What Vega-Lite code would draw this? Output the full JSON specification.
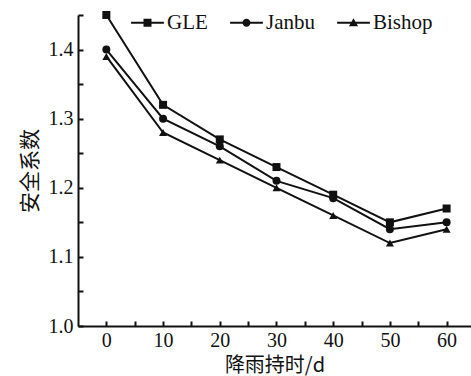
{
  "$schema": "https://vega.github.io/schema/vega-lite/v6.json",
  "width": 393,
  "height": 311,
  "autosize": "none",
  "padding": {"left": 78, "top": 15, "right": 0, "bottom": 50},
  "background": "white",
  "config": {
    "view": {"stroke": null},
    "font": "Liberation Serif, DejaVu Serif, serif",
    "axis": {"grid": false, "domainColor": "#111", "domainWidth": 2, "tickColor": "#111", "tickWidth": 2, "labelColor": "#111", "titleColor": "#111", "labelFont": "Liberation Serif, DejaVu Serif, serif", "labelFontSize": 20}
  },
  "data": {
    "values": [
      {"method": "GLE", "t": 0, "fs": 1.45},
      {"method": "GLE", "t": 10, "fs": 1.32},
      {"method": "GLE", "t": 20, "fs": 1.27},
      {"method": "GLE", "t": 30, "fs": 1.23},
      {"method": "GLE", "t": 40, "fs": 1.19},
      {"method": "GLE", "t": 50, "fs": 1.15},
      {"method": "GLE", "t": 60, "fs": 1.17},
      {"method": "Janbu", "t": 0, "fs": 1.40},
      {"method": "Janbu", "t": 10, "fs": 1.30},
      {"method": "Janbu", "t": 20, "fs": 1.26},
      {"method": "Janbu", "t": 30, "fs": 1.21},
      {"method": "Janbu", "t": 40, "fs": 1.185},
      {"method": "Janbu", "t": 50, "fs": 1.14},
      {"method": "Janbu", "t": 60, "fs": 1.15},
      {"method": "Bishop", "t": 0, "fs": 1.39},
      {"method": "Bishop", "t": 10, "fs": 1.28},
      {"method": "Bishop", "t": 20, "fs": 1.24},
      {"method": "Bishop", "t": 30, "fs": 1.20},
      {"method": "Bishop", "t": 40, "fs": 1.16},
      {"method": "Bishop", "t": 50, "fs": 1.12},
      {"method": "Bishop", "t": 60, "fs": 1.14}
    ]
  },
  "encoding": {
    "x": {
      "field": "t", "type": "quantitative",
      "scale": {"domain": [-5, 64.3], "nice": false, "zero": false},
      "axis": {
        "title": "降雨持时/d", "titleFont": "Noto Sans CJK SC", "titleFontSize": 20, "titleFontWeight": "normal", "titlePadding": 5,
        "values": [0, 5, 10, 15, 20, 25, 30, 35, 40, 45, 50, 55, 60],
        "labelExpr": "datum.value % 10 == 0 ? datum.label : ''",
        "tickSize": -5, "labelPadding": 9, "labelFlush": false
      }
    },
    "y": {
      "field": "fs", "type": "quantitative",
      "scale": {"domain": [1.0, 1.45], "nice": false, "zero": false},
      "axis": {
        "title": "安全系数", "titleFont": "Noto Sans CJK SC", "titleFontSize": 21, "titleFontWeight": "normal", "titlePadding": 8,
        "values": [1.0, 1.05, 1.1, 1.15, 1.2, 1.25, 1.3, 1.35, 1.4, 1.45],
        "labelExpr": "abs(datum.value * 10 - round(datum.value * 10)) < 0.01 ? format(datum.value, '.1f') : ''",
        "tickSize": -5, "labelPadding": 10, "labelFlush": false
      }
    }
  },
  "layer": [
    {
      "mark": {"type": "line", "color": "#111", "strokeWidth": 2},
      "encoding": {"detail": {"field": "method", "type": "nominal"}}
    },
    {
      "mark": {"type": "point", "filled": true, "color": "#111", "opacity": 1},
      "encoding": {
        "shape": {"field": "method", "type": "nominal", "scale": {"domain": ["GLE", "Janbu", "Bishop"], "range": ["square", "circle", "triangle-up"]}, "legend": null},
        "size": {"value": 64}
      }
    },
    {
      "mark": {"type": "point", "filled": true, "color": "#111", "opacity": 0},
      "encoding": {
        "shape": {
          "field": "method", "type": "nominal",
          "scale": {"domain": ["GLE", "Janbu", "Bishop"], "range": [
            "M-4.1,-0.25H4.1V0.25H-4.1Z M-1,-1H1V1H-1Z",
            "M-4.1,-0.25H4.1V0.25H-4.1Z M1,0A1,1,0,1,1,-1,0A1,1,0,1,1,1,0Z",
            "M-4.1,-0.25H4.1V0.25H-4.1Z M0,-1.1L1.15,0.9H-1.15Z"
          ]},
          "legend": {
            "title": null, "orient": "none", "direction": "horizontal",
            "legendX": 59, "legendY": -3, "padding": 0,
            "symbolSize": 64, "symbolOpacity": 1, "symbolFillColor": "#111", "symbolStrokeWidth": 0,
            "labelFont": "Liberation Serif, DejaVu Serif, serif", "labelFontSize": 21, "labelColor": "#111",
            "labelOffset": 9, "columnPadding": 22
          }
        }
      }
    }
  ],
  "resolve": {"scale": {"shape": "independent"}}
}
